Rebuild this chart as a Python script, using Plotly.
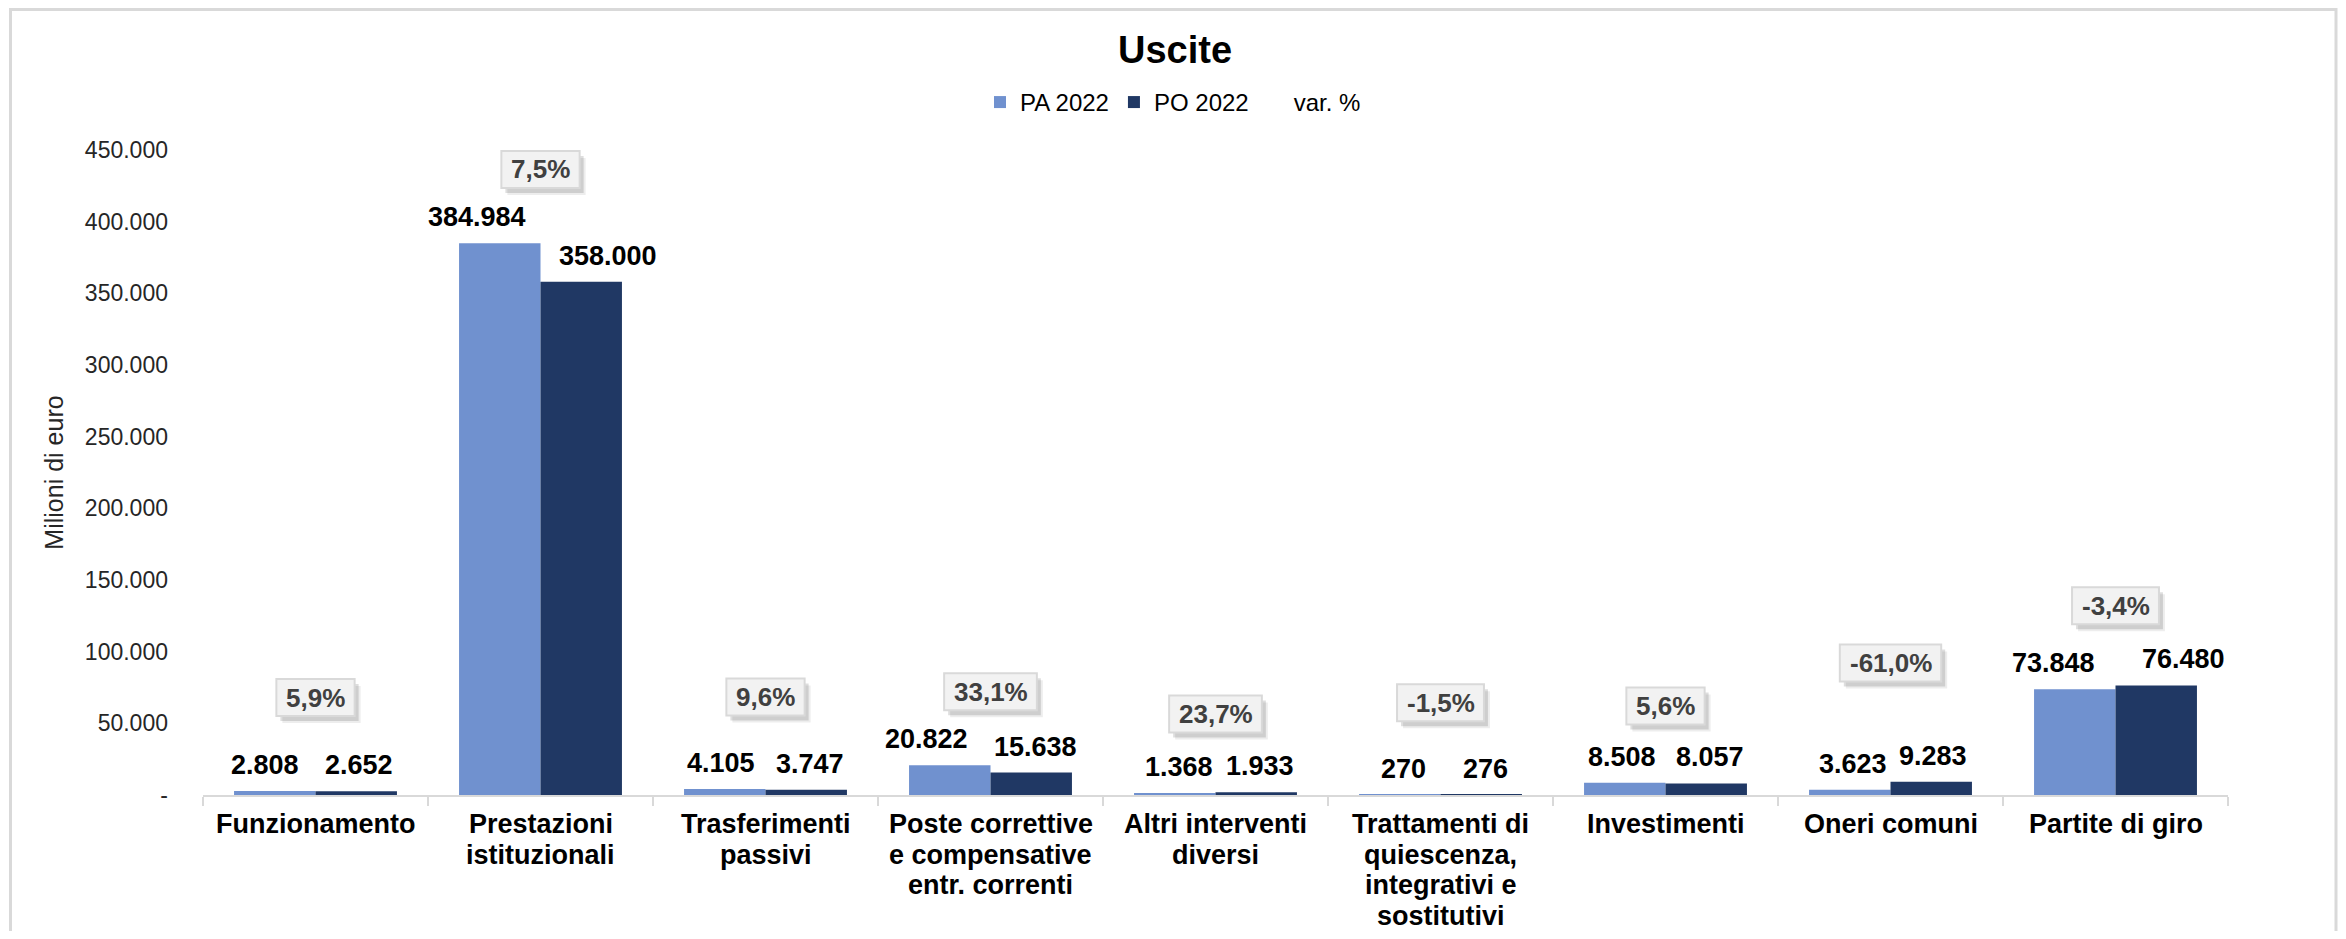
import plotly.graph_objects as go

# ---------------- data ----------------
categories = [
    "Funzionamento",
    "Prestazioni<br>istituzionali",
    "Trasferimenti<br>passivi",
    "Poste correttive<br>e compensative<br>entr. correnti",
    "Altri interventi<br>diversi",
    "Trattamenti di<br>quiescenza,<br>integrativi e<br>sostitutivi",
    "Investimenti",
    "Oneri comuni",
    "Partite di giro",
]
pa_2022 = [2808, 384984, 4105, 20822, 1368, 270, 8508, 3623, 73848]
po_2022 = [2652, 358000, 3747, 15638, 1933, 276, 8057, 9283, 76480]
var_pct = [5.9, 7.5, 9.6, 33.1, 23.7, -1.5, 5.6, -61.0, -3.4]
y_tick_vals = [0, 50000, 100000, 150000, 200000, 250000, 300000, 350000, 400000, 450000]
y_tick_text = ["-", "50.000", "100.000", "150.000", "200.000", "250.000",
               "300.000", "350.000", "400.000", "450.000"]

# ---------------- layout helpers (positions / styles) ----------------
# height (axis units) where each var.% box sits
var_box_y = [68000, 436400, 68400, 72100, 56550, 64440, 62140, 92160, 131960]
# small horizontal nudges (px) for value labels, as in the original
dx_pa = [-10, -23, -4, -23, 4, 4, -3, 3, -21]
dx_po = [3, 27, 4, 4, 4, 4, 4, 2, 27]

C_PA = "#7091CF"
C_PO = "#203864"
FONT = "Liberation Sans, Arial, sans-serif"
BAR_HALF = 40.75  # half bar width in px (for label placement)
BOX_H = 37
PCT_SIZE = 26

W, H = 2330, 923  # page body adds an 8px margin on every side
PLOT_L, PLOT_T, PLOT_W, PLOT_H = 195, 142, 2025, 645


def fmt_int(v):
    return f"{v:,}".replace(",", ".")


def fmt_pct(v):
    return f"{v:.1f}".replace(".", ",") + "%"


def text_w(s, size):
    w = {",": 0.278, ".": 0.278, "%": 0.889, "-": 0.333}
    return sum(w.get(ch, 0.556) for ch in s) * size


fig = go.Figure()
fig.add_trace(go.Bar(name="PA 2022", x=categories, y=pa_2022,
                     marker=dict(color=C_PA, line=dict(width=0)), hoverinfo="skip"))
fig.add_trace(go.Bar(name="PO 2022", x=categories, y=po_2022,
                     marker=dict(color=C_PO, line=dict(width=0)), hoverinfo="skip"))
fig.add_trace(go.Scatter(name="var. %", x=categories, y=var_box_y, mode="lines",
                         line=dict(color="rgba(0,0,0,0)", width=0), hoverinfo="skip"))

annotations = []
shapes = []
# value labels
for i, c in enumerate(categories):
    annotations.append(dict(x=c, y=pa_2022[i], xref="x", yref="y", text=fmt_int(pa_2022[i]),
                            showarrow=False, xshift=-BAR_HALF + dx_pa[i], yshift=26,
                            yanchor="middle", xanchor="center",
                            font=dict(family=FONT, size=27, color="#000000", weight="bold")))
    annotations.append(dict(x=c, y=po_2022[i], xref="x", yref="y", text=fmt_int(po_2022[i]),
                            showarrow=False, xshift=BAR_HALF + dx_po[i], yshift=26,
                            yanchor="middle", xanchor="center",
                            font=dict(family=FONT, size=27, color="#000000", weight="bold")))

# var % boxes: shadow + box as shapes, text as annotation
for i, c in enumerate(categories):
    t = fmt_pct(var_pct[i])
    w = text_w(t, PCT_SIZE) + 19
    for (ox, oy, op) in [(6, 7, 0.07), (4, 5, 0.13)]:
        shapes.append(dict(type="rect", xref="x", yref="y",
                           xsizemode="pixel", ysizemode="pixel",
                           xanchor=i, yanchor=var_box_y[i],
                           x0=-w / 2 + ox, x1=w / 2 + ox,
                           y0=-BOX_H / 2 - oy, y1=BOX_H / 2 - oy,
                           fillcolor=f"rgba(0,0,0,{op})", line=dict(width=0), layer="above"))
    shapes.append(dict(type="rect", xref="x", yref="y",
                       xsizemode="pixel", ysizemode="pixel",
                       xanchor=i, yanchor=var_box_y[i],
                       x0=-w / 2, x1=w / 2, y0=-BOX_H / 2, y1=BOX_H / 2,
                       fillcolor="#F2F2F2", line=dict(color="#D9D9D9", width=2), layer="above"))
    annotations.append(dict(x=c, y=var_box_y[i], xref="x", yref="y", text=t,
                            showarrow=False, yanchor="middle", xanchor="center",
                            font=dict(family=FONT, size=PCT_SIZE, color="#404040", weight="bold")))

# category labels (one annotation per line for tight line spacing)
for c in categories:
    for j, line in enumerate(c.split("<br>")):
        annotations.append(dict(x=c, y=0, xref="x", yref="y", text=line,
                                showarrow=False, yshift=-29 - 30.7 * j,
                                yanchor="middle", xanchor="center",
                                font=dict(family=FONT, size=27, color="#000000", weight="bold")))

# outer chart frame (figure pixel -> paper fraction)
def px_x(p):
    return (p - PLOT_L) / PLOT_W


def px_y(p):
    return (PLOT_T + PLOT_H - p) / PLOT_H


shapes.insert(0, dict(type="rect", xref="paper", yref="paper",
                      x0=px_x(2.5), x1=px_x(W - 2), y0=px_y(H + 20), y1=px_y(1.5),
                      line=dict(color="#D9D9D9", width=3), fillcolor="rgba(0,0,0,0)",
                      layer="below"))

fig.update_layout(
    width=W, height=H,
    margin=dict(l=PLOT_L, r=W - PLOT_L - PLOT_W, t=PLOT_T, b=H - PLOT_T - PLOT_H),
    paper_bgcolor="white", plot_bgcolor="white",
    barmode="group", bargap=0.276, bargroupgap=0,
    title=dict(text="<b>Uscite</b>", x=(1175 - 8) / W, xref="container", xanchor="center",
               y=(H - 42) / H, yref="container", yanchor="middle",
               font=dict(family=FONT, size=38, color="#000000")),
    legend=dict(orientation="h", x=0.479, xanchor="center", y=1.0737, yanchor="middle",
                font=dict(family=FONT, size=24, color="#000000"),
                itemwidth=30, traceorder="normal", bgcolor="rgba(0,0,0,0)"),
    annotations=annotations,
    shapes=shapes,
    showlegend=True,
)

fig.update_xaxes(type="category", showticklabels=False, showline=True, linecolor="#D9D9D9",
                 linewidth=2, ticks="outside", tickson="boundaries", ticklen=9,
                 tickcolor="#D9D9D9", tickwidth=2, showgrid=False, zeroline=False,
                 fixedrange=True)
fig.update_yaxes(range=[0, 450000], tickvals=y_tick_vals, ticktext=y_tick_text,
                 showgrid=False, zeroline=False, showline=False, ticks="",
                 ticklabelstandoff=34,
                 tickfont=dict(family=FONT, size=23, color="#262626"),
                 title=dict(text="Milioni di euro", standoff=14,
                            font=dict(family=FONT, size=25, color="#262626")),
                 fixedrange=True)

fig.write_html("out.html")
